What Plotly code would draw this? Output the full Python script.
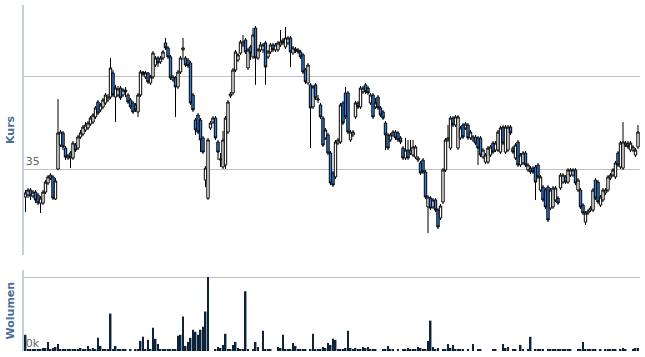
import plotly.graph_objects as go

# Daily candles (index = trading day)
open_ = [33.48,33.59,33.86,33.53,33.75,33.59,33.15,33.15,33.75,34.24,34.51,34.57,33.37,35.00,36.30,36.96,36.14,35.60,35.87,35.60,
         36.30,36.14,36.74,36.90,37.12,37.23,37.45,37.55,37.83,38.64,38.21,38.37,38.59,38.75,38.91,40.22,38.91,39.02,39.40,39.02,
         39.29,39.02,38.75,38.59,38.48,38.10,39.02,40.27,40.00,40.22,39.67,40.00,40.65,41.03,40.82,41.03,41.85,41.58,41.09,39.84,
         39.95,39.46,40.27,41.47,41.03,40.92,40.76,39.02,37.66,37.93,37.66,36.69,34.40,33.42,37.23,37.55,37.77,36.47,35.49,35.11,
         35.22,37.01,38.97,39.13,40.38,40.92,41.30,41.74,42.01,40.49,41.63,41.09,42.66,41.03,41.47,41.47,41.85,41.09,41.36,41.74,
         41.47,41.47,41.74,42.01,41.63,41.85,42.12,41.30,41.52,41.47,41.36,41.20,40.38,39.67,39.57,38.37,39.57,38.75,38.48,37.77,
         36.69,36.85,35.87,34.78,34.57,36.41,36.47,38.59,39.13,39.13,36.58,36.85,37.83,38.59,38.37,39.19,39.57,39.40,38.59,39.02,
         38.37,38.91,38.32,38.10,37.50,36.85,36.58,36.85,37.01,36.96,36.69,36.14,35.60,36.03,35.87,35.76,35.65,35.49,35.33,35.49,
         34.84,32.94,33.42,32.94,33.32,32.77,32.34,33.21,34.95,36.58,36.14,37.77,37.39,36.14,36.69,37.39,37.23,37.39,36.69,36.58,
         36.74,36.69,36.69,35.65,35.38,35.38,35.76,36.41,36.03,36.03,35.92,37.28,35.92,36.03,37.28,36.14,35.60,36.47,35.22,35.33,
         35.87,34.95,35.05,35.05,35.11,35.22,33.86,34.02,33.86,34.02,32.88,32.94,33.32,33.42,33.97,34.29,34.57,34.29,34.67,34.67,
         34.95,33.86,33.86,33.04,32.12,32.61,32.77,32.77,34.40,34.29,33.04,33.32,33.70,33.86,34.51,34.67,34.57,35.87,35.11,35.05,
         36.30,36.41,36.03,36.03,35.76,36.20]
high = [33.86,33.97,33.97,33.86,33.86,33.70,33.53,33.86,34.40,34.67,34.78,34.67,34.51,38.80,37.12,37.07,36.25,35.82,35.98,36.52,
        36.41,36.85,37.12,37.39,37.55,37.61,37.88,38.04,38.42,38.75,38.59,38.86,39.13,39.08,41.03,40.38,39.57,39.51,39.51,39.40,
        39.46,39.13,38.86,38.70,38.59,39.13,40.38,40.33,40.33,40.27,40.11,41.41,41.14,41.14,41.14,41.47,42.12,41.68,41.20,40.11,
        40.05,40.38,41.14,42.12,41.14,41.03,40.87,39.13,37.77,38.04,37.77,36.79,35.16,36.69,37.61,37.88,37.88,36.58,35.87,37.07,
        37.88,38.75,39.19,40.49,41.47,41.30,42.01,42.28,42.12,41.58,41.74,42.66,42.77,41.58,41.90,41.85,41.96,41.47,41.85,41.85,
        41.85,41.96,42.55,42.12,42.72,42.23,42.23,41.68,41.63,41.58,41.47,41.30,40.49,40.76,39.67,39.57,39.67,39.02,38.59,37.88,
        37.23,36.96,35.98,34.89,36.58,36.69,38.59,38.70,39.46,39.24,37.12,37.12,38.70,38.70,39.51,39.51,39.67,39.51,39.13,39.13,
        38.86,39.02,38.42,38.21,37.61,36.96,36.96,37.12,37.12,37.07,36.79,36.25,36.69,36.58,36.58,36.58,36.30,35.71,35.44,35.60,
        34.95,33.59,33.53,33.42,33.42,32.88,33.10,35.05,36.69,37.39,37.88,37.88,37.93,37.93,37.34,37.50,37.55,37.50,37.12,36.85,
        36.85,36.79,36.79,36.14,35.87,36.25,36.30,36.52,36.52,37.12,37.34,37.39,37.39,37.39,37.39,36.25,36.41,36.58,35.87,35.98,
        35.98,35.33,35.16,35.16,35.22,35.33,34.67,34.13,33.97,34.13,33.97,34.08,34.08,33.53,34.78,34.78,34.67,35.05,35.05,35.05,
        35.05,34.51,33.97,33.15,32.72,32.83,32.99,33.97,34.51,34.40,33.59,33.97,33.97,34.67,34.78,35.05,35.44,35.98,36.52,37.55,
        36.52,36.52,36.52,36.30,36.14,37.39]
low = [32.66,33.42,33.32,33.42,33.15,33.04,32.61,33.04,33.64,34.13,34.40,33.32,33.32,34.95,36.20,36.03,35.49,35.49,35.05,35.49,
       35.92,36.03,36.63,36.79,37.01,37.12,37.34,37.45,37.72,37.93,38.10,38.26,38.48,38.64,38.80,38.91,37.55,38.91,38.75,38.91,
       38.91,38.53,38.26,37.99,38.10,37.83,38.91,40.05,39.89,39.62,39.57,39.89,40.54,40.54,40.71,40.92,41.47,40.98,39.84,39.73,
       37.83,39.35,40.16,40.92,40.54,40.49,38.48,38.10,36.85,36.90,35.92,35.82,34.02,33.32,37.12,37.45,36.58,35.49,35.11,35.00,
       35.00,36.90,38.86,39.02,40.27,40.82,41.20,41.63,41.25,40.38,40.92,40.98,39.57,40.92,41.36,41.30,39.57,40.98,41.25,41.36,
       41.36,41.36,41.63,41.74,41.52,41.74,40.54,41.20,41.30,41.25,40.98,40.16,39.62,39.57,36.14,38.26,38.75,38.59,37.72,36.20,
       36.58,35.76,34.13,34.02,34.46,36.30,36.36,37.39,37.72,36.90,36.47,36.74,37.72,38.26,38.26,39.08,39.08,39.02,38.48,37.72,
       38.26,38.21,37.83,37.66,36.03,36.03,36.47,36.74,36.58,36.47,36.36,35.49,35.49,35.49,35.76,35.65,35.54,35.38,34.67,34.73,
       33.37,31.52,32.77,32.83,32.66,31.74,32.23,33.10,34.84,36.47,36.03,37.28,37.28,36.03,36.58,36.63,37.12,36.58,36.58,36.47,
       36.30,35.22,35.65,35.54,35.27,35.27,35.65,35.82,35.92,35.92,35.82,36.30,35.82,35.92,36.85,35.82,35.49,35.11,35.11,35.22,
       35.11,34.84,34.73,34.73,33.32,34.46,33.75,33.21,32.83,32.12,32.77,32.83,33.21,33.04,33.86,34.19,34.19,34.19,34.57,34.57,
       34.13,33.75,32.83,32.50,31.96,32.50,32.66,32.66,33.32,33.10,32.94,33.21,33.59,33.75,34.40,34.57,34.46,35.11,35.00,34.95,
       36.20,36.09,35.92,35.92,35.65,36.09]
close = [33.70,33.86,33.53,33.75,33.32,33.15,33.42,33.75,34.29,34.57,34.67,33.42,34.35,36.96,37.01,36.20,35.65,35.71,35.60,36.41,
         36.03,36.74,36.96,37.28,37.39,37.50,37.77,37.93,38.32,38.04,38.48,38.75,39.02,38.91,40.49,39.02,39.40,39.35,38.86,39.29,
         39.19,38.64,38.37,38.10,38.21,39.02,40.27,40.16,40.22,39.73,40.00,41.30,41.03,40.76,41.03,41.36,41.58,41.09,39.95,40.00,
         39.46,40.27,41.03,41.58,40.65,40.60,38.59,38.21,37.12,37.01,36.58,35.92,35.05,36.58,37.50,37.77,36.69,35.92,35.54,36.58,
         37.77,38.64,39.08,40.38,41.36,41.20,41.90,41.90,41.36,41.47,41.30,42.28,41.03,41.47,41.74,41.74,40.54,41.36,41.74,41.47,
         41.74,41.85,41.90,41.85,42.12,42.12,41.36,41.58,41.41,41.36,41.09,40.27,39.73,40.65,38.32,39.46,38.86,38.80,37.83,36.30,
         37.12,35.87,34.24,34.13,36.47,36.58,38.48,37.50,37.83,37.01,37.01,37.01,38.59,38.37,39.40,39.40,39.19,39.13,39.02,37.83,
         38.59,38.32,37.93,37.77,36.85,36.14,36.85,37.01,36.69,36.58,36.47,35.60,36.03,35.60,36.03,36.20,36.20,35.60,34.78,34.84,
         33.48,33.48,32.88,33.32,32.77,31.85,32.99,34.95,36.58,36.69,37.77,37.39,37.83,37.83,37.23,36.74,37.45,36.69,37.01,36.74,
         36.41,36.14,35.76,36.03,35.76,36.14,36.20,35.92,36.41,37.01,37.23,36.41,37.28,37.28,36.96,35.92,36.30,35.22,35.76,35.87,
         35.22,35.22,34.84,34.84,34.29,34.57,34.57,33.32,32.94,32.23,33.86,33.97,33.97,33.15,34.67,34.67,34.29,34.95,34.95,34.95,
         34.24,34.40,32.94,32.61,32.61,32.72,32.88,33.86,33.42,33.21,33.48,33.86,33.86,34.57,34.67,34.95,35.33,35.22,36.41,36.47,
         36.41,36.20,36.41,36.20,36.03,37.01]
volume_k = [16,2,1,1,1,2,2,3,3,9,1,3,4,7,1,1,1,1,1,1,
            1,1,3,1,1,5,1,3,1,13,5,2,1,1,37,1,5,2,1,2,
            1,0,1,0,1,2,10,14,2,11,1,23,12,7,1,2,1,1,1,1,
            1,15,16,34,5,9,13,21,19,16,21,24,39,73,0,0,2,4,3,6,
            17,2,2,6,9,3,2,2,59,2,0,2,9,4,0,20,2,1,1,0,
            0,4,3,16,2,2,2,8,5,1,1,1,1,0,1,17,1,1,1,4,
            3,8,6,12,11,2,2,1,3,20,3,2,3,2,2,4,3,4,2,2,
            1,0,0,1,2,5,1,1,0,1,0,1,1,3,1,2,2,4,3,2,
            2,10,30,4,2,3,0,2,2,7,3,6,2,2,1,1,0,1,0,7,
            0,1,1,0,0,0,0,1,1,0,0,7,3,4,0,1,2,0,6,2,
            0,1,14,0,1,2,2,2,0,1,1,1,2,1,1,2,1,1,2,0,
            0,1,2,9,2,1,1,2,1,0,1,0,1,1,1,2,2,0,1,3,
            1,0,0,2,3,3]
days = list(range(len(close)))

price_ticks = [35, 40]
price_ticktext = ["35", ""]
vol_ticks = [0, 73]
vol_ticktext = ["0k", ""]

BLUE = "#2f7ed8"
NAVY = "#0d233a"
AXIS = "#c0d0e0"
GRID = "#c0c0c0"

fig = go.Figure()
fig.add_trace(go.Candlestick(
    x=days, open=open_, high=high, low=low, close=close,
    xaxis="x", yaxis="y",
    increasing=dict(fillcolor="white", line=dict(color="black", width=1)),
    decreasing=dict(fillcolor=BLUE, line=dict(color="black", width=1)),
    whiskerwidth=0, showlegend=False, hoverinfo="skip",
))
fig.add_trace(go.Bar(
    x=days, y=volume_k, xaxis="x2", yaxis="y2",
    marker=dict(color=NAVY, line=dict(width=0)), showlegend=False, hoverinfo="skip",
))

xr = [-0.6, 245.8]
font = dict(family="DejaVu Sans", size=11, color="#666666")
fig.update_layout(
    width=645, height=357,
    margin=dict(l=24, r=5, t=0, b=0),
    paper_bgcolor="white", plot_bgcolor="white",
    bargap=0.25, boxgap=0.05, boxgroupgap=0,
    xaxis=dict(domain=[0, 1], range=xr, showticklabels=False, showgrid=False, zeroline=False,
               showline=False, ticks="", anchor="y", rangeslider=dict(visible=False)),
    xaxis2=dict(domain=[0, 1], range=xr, showticklabels=False, showgrid=False, zeroline=False,
                showline=False, ticks="", anchor="y2", matches="x"),
    yaxis=dict(domain=[0.2857, 0.986], range=[30.33, 43.91], tickvals=price_ticks, ticktext=price_ticktext,
               ticklabelposition="inside top", tickfont=font, showgrid=True, gridcolor=GRID, gridwidth=1,
               zeroline=False, showline=True, linecolor=AXIS, linewidth=2, ticks=""),
    yaxis2=dict(domain=[0.0168, 0.2437], range=[0, 80], tickvals=vol_ticks, ticktext=vol_ticktext,
                ticklabelposition="inside top", tickfont=font, showgrid=True, gridcolor=GRID, gridwidth=1,
                zeroline=False, showline=True, linecolor=AXIS, linewidth=2, ticks=""),
    annotations=[
        dict(text="<b>Kurs</b>", x=-0.0227, y=(0.2857 + 0.986) / 2, xref="paper", yref="paper",
             textangle=-90, showarrow=False, xanchor="center", yanchor="middle",
             font=dict(family="DejaVu Sans", size=11, color="#4d6d9a")),
        dict(text="<b>Wolumen</b>", x=-0.0227, y=(0.0168 + 0.2437) / 2, xref="paper", yref="paper",
             textangle=-90, showarrow=False, xanchor="center", yanchor="middle",
             font=dict(family="DejaVu Sans", size=11, color="#4d6d9a")),
    ],
)
fig.write_html("out.html")
